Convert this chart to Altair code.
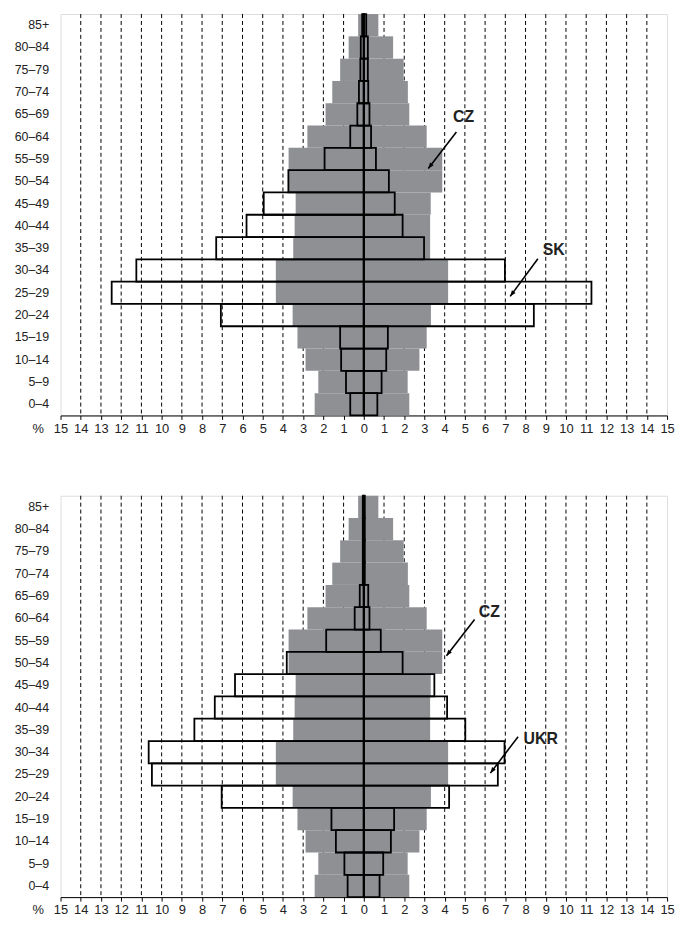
import altair as alt
import pandas as pd

ages = ["0–4", "5–9", "10–14", "15–19", "20–24", "25–29", "30–34", "35–39", "40–44",
        "45–49", "50–54", "55–59", "60–64", "65–69", "70–74", "75–79", "80–84", "85+"]

cz_male = [2.43, 2.25, 2.88, 3.28, 3.52, 4.35, 4.35, 3.49, 3.42, 3.37, 3.72, 3.72, 2.79, 1.89, 1.56, 1.17, 0.75, 0.28]
cz_female = [2.25, 2.17, 2.75, 3.11, 3.32, 4.17, 4.17, 3.28, 3.28, 3.31, 3.88, 3.88, 3.11, 2.25, 2.18, 1.97, 1.45, 0.72]

sk_male = [0.67, 0.88, 1.12, 1.17, 7.07, 12.47, 11.25, 7.3, 5.8, 4.95, 3.73, 1.94, 0.67, 0.32, 0.24, 0.17, 0.15, 0.08]
sk_female = [0.67, 0.88, 1.11, 1.19, 8.41, 11.26, 6.98, 2.98, 1.92, 1.53, 1.24, 0.6, 0.36, 0.28, 0.22, 0.2, 0.2, 0.12]

ukr_male = [0.8, 0.96, 1.38, 1.6, 7.03, 10.48, 10.64, 8.38, 7.37, 6.37, 3.81, 1.86, 0.45, 0.2, 0.05, 0.05, 0.05, 0.05]
ukr_female = [0.78, 0.96, 1.34, 1.5, 4.22, 6.63, 6.96, 5.02, 4.12, 3.49, 1.92, 0.84, 0.28, 0.22, 0.05, 0.05, 0.05, 0.05]

x_ticks = list(range(-15, 16))
grid_values = [v for v in x_ticks if v != 0 and abs(v) != 15]

# annotations (x in %, y in age-row units counted from the bottom)
top_labels = ["CZ", "SK"]
top_label_x = [4.94, 9.39]
top_label_y = [13.37, 7.41]
top_arrow_x = [4.58, 8.61]
top_arrow_y = [12.71, 7.03]
top_arrow_x2 = [3.19, 7.24]
top_arrow_y2 = [11.07, 5.34]

bot_labels = ["CZ", "UKR"]
bot_label_x = [6.21, 8.75]
bot_label_y = [12.8, 7.1]
bot_arrow_x = [5.48, 7.63]
bot_arrow_y = [12.45, 7.19]
bot_arrow_x2 = [4.09, 6.26]
bot_arrow_y2 = [10.82, 5.56]

FONT = "Liberation Sans"
GRAY = "#8E9094"
W = 612
H = 405

XSCALE = alt.Scale(domain=[-15, 15], nice=False, zero=False)
XAXIS = alt.Axis(
    values=x_ticks,
    tickCount=31,
    labelExpr="abs(datum.value)",
    labelOverlap=False,
    labelBound=False,
    title="%",
    titleX=-23,
    titleY=7,
    titleAlign="center",
    titleBaseline="top",
    titleFontSize=13,
    titleFontWeight="normal",
    titleFont=FONT,
    titleColor="#222222",
    labelFont=FONT,
    labelFontSize=13,
    labelColor="#222222",
    labelPadding=3,
    labelFlush=False,
    tickSize=4,
    tickColor="black",
    domainColor="black",
    grid=False,
)


def pyramid_df(male, female):
    rows = []
    for a, m, f in zip(ages, male, female):
        rows.append({"age": a, "v": -m})
        rows.append({"age": a, "v": f})
    return pd.DataFrame(rows)


def X(field):
    return alt.X(field, scale=XSCALE, axis=XAXIS)


def panel(other_m, other_f, labels, lx, ly, ax, ay, ax2, ay2):
    y_enc = alt.Y(
        "age:N",
        scale=alt.Scale(domain=ages[::-1], paddingInner=0, paddingOuter=0),
        axis=alt.Axis(
            title=None,
            ticks=False,
            domain=False,
            labelFont=FONT,
            labelFontSize=12.5,
            labelColor="#222222",
            labelPadding=12,
        ),
    )
    grid = alt.Chart(pd.DataFrame({"v": grid_values})).mark_rule(
        color="black", strokeWidth=1, strokeDash=[4, 3]
    ).encode(x=X("v:Q"))
    gray = alt.Chart(pyramid_df(cz_male, cz_female)).mark_bar(
        color=GRAY, strokeWidth=0
    ).encode(x=X("v:Q"), x2=alt.X2(datum=0), y=y_enc)
    outline = alt.Chart(pyramid_df(other_m, other_f)).mark_bar(
        fillOpacity=0, stroke="black", strokeWidth=1.8
    ).encode(x=X("v:Q"), x2=alt.X2(datum=0), y=y_enc)
    zero = alt.Chart(pd.DataFrame({"v": [0]})).mark_rule(
        color="black", strokeWidth=2
    ).encode(x=X("v:Q"))
    bars = alt.layer(grid, gray, outline, zero)

    ann_df = pd.DataFrame({"t": labels, "x": lx, "y": ly})
    arr_df = pd.DataFrame({"x": ax, "y": ay, "x2": ax2, "y2": ay2})
    yscale = alt.Scale(domain=[0, 18], nice=False, zero=False)
    txt = alt.Chart(ann_df).mark_text(
        font=FONT, fontSize=16, fontWeight="bold", color="#222222"
    ).encode(x=X("x:Q"), y=alt.Y("y:Q", scale=yscale, axis=None), text="t:N")
    lines = alt.Chart(arr_df).mark_rule(color="black", strokeWidth=1.6).encode(
        x=X("x:Q"), y=alt.Y("y:Q", scale=yscale, axis=None), x2="x2:Q", y2="y2:Q"
    )
    heads = alt.Chart(arr_df).mark_point(
        shape="M0,0L-0.5,1.3L0.5,1.3Z", filled=True, color="black", size=85,
        angle=217, opacity=1, strokeWidth=0
    ).encode(x=X("x2:Q"), y=alt.Y("y2:Q", scale=yscale, axis=None))
    ann = alt.layer(txt, lines, heads)

    return alt.layer(bars, ann).resolve_scale(y="independent").properties(width=W, height=H)


top = panel(sk_male, sk_female, top_labels, top_label_x, top_label_y,
            top_arrow_x, top_arrow_y, top_arrow_x2, top_arrow_y2)
bottom = panel(ukr_male, ukr_female, bot_labels, bot_label_x, bot_label_y,
               bot_arrow_x, bot_arrow_y, bot_arrow_x2, bot_arrow_y2)

chart = alt.vconcat(top, bottom, spacing=58).properties(
    padding={"left": 5, "top": 0, "right": 0, "bottom": 0}
).configure_view(stroke="#8a8a8a", strokeWidth=1).configure(background="white")

chart.save("out.html", embed_options={"renderer": "svg", "actions": False})
